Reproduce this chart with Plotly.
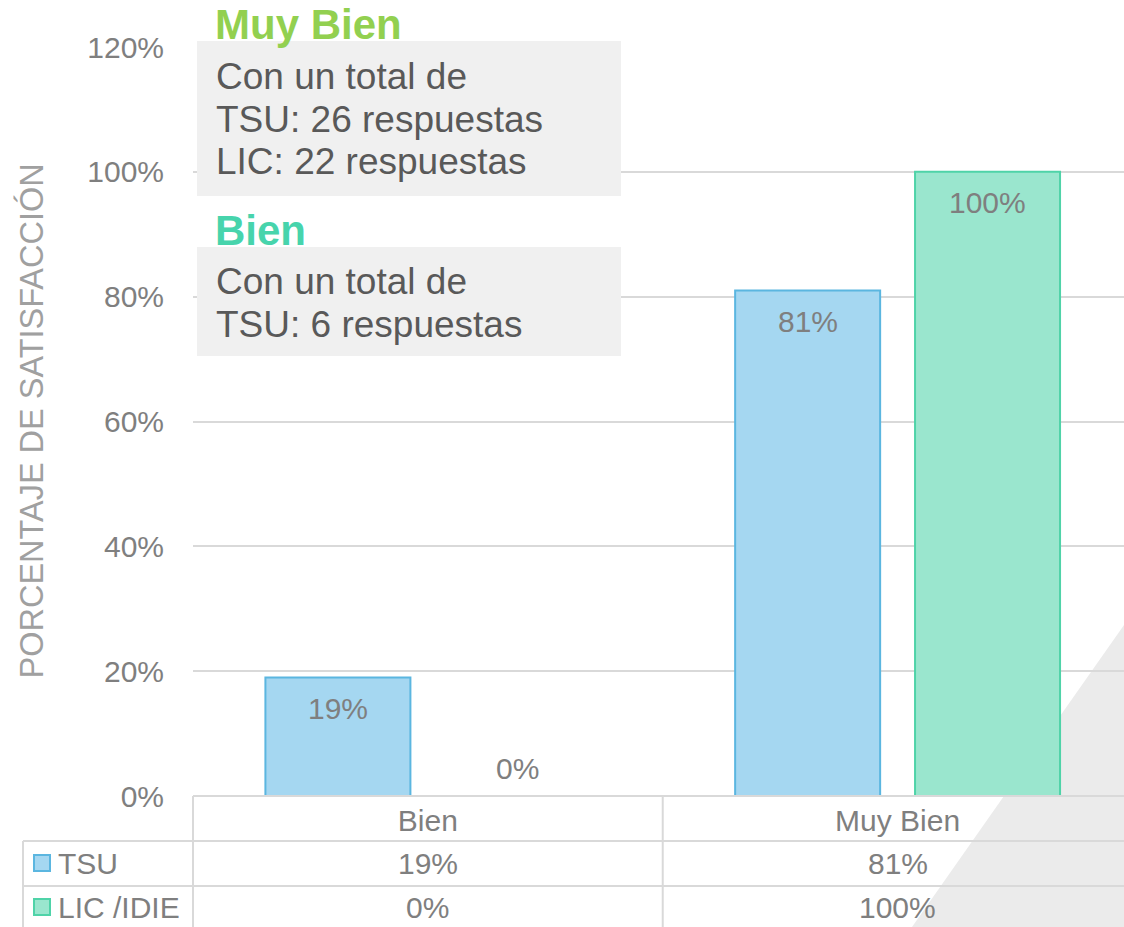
"""
Satisfacción por nivel: TSU vs LIC /IDIE
Barras agrupadas con tabla de datos debajo y cuadros de resumen
"""
import plotly.graph_objects as go

# Datos
categorias = ['Bien', 'Muy Bien']
series = ['TSU', 'LIC /IDIE']
tsu = [0.19, 0.81]
lic = [0.00, 1.00]
resumen_titulos = ['Muy Bien', 'Bien']
resumen_lineas = [
    ['Con un total de', 'TSU: 26 respuestas', 'LIC: 22 respuestas'],
    ['Con un total de', 'TSU: 6 respuestas'],
]

W, H = 1124, 927
M_L, M_R, M_T, M_B = 193, 0, 47, 131
PW, PH = W - M_L - M_R, H - M_T - M_B


# pixel -> paper helpers for decorations
def px(x):
    return (x - M_L) / PW


def py(y):
    return (H - M_B - y) / PH


FONT = 'Liberation Sans, Arial, sans-serif'
GRIS = '#7F7F7F'
LINEA = '#D9D9D9'
colores = ['#A5D7F1', '#9AE6CE']
bordes = ['#5BB6E0', '#4FD3A8']

fig = go.Figure()
for nombre, vals, col, bor in zip(series, [tsu, lic], colores, bordes):
    fig.add_trace(go.Bar(
        x=categorias, y=vals, name=nombre,
        marker=dict(color=col, line=dict(color=bor, width=2)),
        showlegend=False,
    ))

shapes = []
annotations = []

# gray triangle decoration (bottom right)
shapes.append(dict(
    type='path', xref='paper', yref='paper', layer='below',
    path=f'M {px(1124)} {py(625)} L {px(912)} {py(927)} L {px(1124)} {py(927)} Z',
    fillcolor='#EBEBEB', line=dict(width=0),
))

# data labels on bars
for vals, shift_x in zip([tsu, lic], [-90, 90]):
    for cat, v in zip(categorias, vals):
        annotations.append(dict(
            x=cat, y=v, xref='x', yref='y', xshift=shift_x,
            yshift=-31 if v > 0 else 28,
            text=f'{v:.0%}', showarrow=False,
            font=dict(size=30, color=GRIS, family=FONT),
        ))

# data table lines
for x0, y0, x1, y1 in [(193, 796, 1124, 796), (23, 841, 1124, 841), (23, 886, 1124, 886),
                       (23, 841, 23, 927), (193, 796, 193, 927)]:
    shapes.append(dict(type='line', xref='paper', yref='paper',
                       x0=px(x0), y0=py(y0), x1=px(x1), y1=py(y1),
                       line=dict(color=LINEA, width=2), layer='above'))
shapes.append(dict(type='line', xref='x', yref='paper', x0=0.5, x1=0.5,
                   y0=py(796), y1=py(927), line=dict(color=LINEA, width=2)))

# table rows: legend key + values
for nombre, vals, col, bor, yc in zip(series, [tsu, lic], colores, bordes, [863, 907]):
    shapes.append(dict(type='rect', xref='paper', yref='paper',
                       x0=px(34), x1=px(50), y0=py(yc - 8), y1=py(yc + 8),
                       fillcolor=col, line=dict(color=bor, width=2)))
    annotations.append(dict(x=px(56), y=py(yc), xref='paper', yref='paper',
                            xanchor='left', yanchor='middle', text=nombre, showarrow=False,
                            font=dict(size=30, color=GRIS, family=FONT)))
    for cat, v in zip(categorias, vals):
        annotations.append(dict(x=cat, y=py(yc), xref='x', yref='paper',
                                yanchor='middle', text=f'{v:.0%}', showarrow=False,
                                font=dict(size=30, color=GRIS, family=FONT)))

# summary boxes top-left
for (y0, y1) in [(41, 196), (247, 356)]:
    shapes.append(dict(type='rect', xref='paper', yref='paper', layer='above',
                       x0=px(197), x1=px(621), y0=py(y1), y1=py(y0),
                       fillcolor='#F0F0F0', line=dict(width=0)))

for titulo, color, yt in zip(resumen_titulos, ['#92D050', '#47D4AC'], [24, 230]):
    annotations.append(dict(x=px(213), y=py(yt), xref='paper', yref='paper',
                            xanchor='left', yanchor='middle', text=f'<b>{titulo}</b>',
                            showarrow=False, font=dict(size=42, color=color, family=FONT)))

for lineas, y_ini in zip(resumen_lineas, [76, 281]):
    for i, linea in enumerate(lineas):
        annotations.append(dict(x=px(214), y=py(y_ini + 43 * i), xref='paper', yref='paper',
                                xanchor='left', yanchor='middle', text=linea, showarrow=False,
                                font=dict(size=37, color='#595959', family=FONT)))

# y axis title
annotations.append(dict(x=px(31), y=0.5, xref='paper', yref='paper', textangle=-90,
                        xanchor='center', yanchor='middle',
                        text='PORCENTAJE DE SATISFACCIÓN', showarrow=False,
                        font=dict(size=32.5, color='#A0A0A0', family=FONT)))

fig.update_layout(
    width=W, height=H, autosize=False,
    margin=dict(l=M_L, r=M_R, t=M_T, b=M_B),
    paper_bgcolor='white', plot_bgcolor='rgba(0,0,0,0)',
    barmode='group', bargap=0.234, bargroupgap=0.194,
    font=dict(family=FONT, color=GRIS),
    shapes=shapes, annotations=annotations,
    xaxis=dict(range=[-0.5, 1.482], showgrid=False, showline=False, zeroline=False,
               ticks='', tickfont=dict(size=30, color=GRIS), ticklabelstandoff=4),
    yaxis=dict(range=[0, 1.2], dtick=0.2, tickformat='.0%', showgrid=True,
               gridcolor=LINEA, gridwidth=2, zeroline=False, showline=False,
               ticks='', tickfont=dict(size=30, color=GRIS), ticklabelstandoff=28),
)

fig.write_html('out.html', config={'displayModeBar': False},
               post_script="document.body.style.margin='0';")
